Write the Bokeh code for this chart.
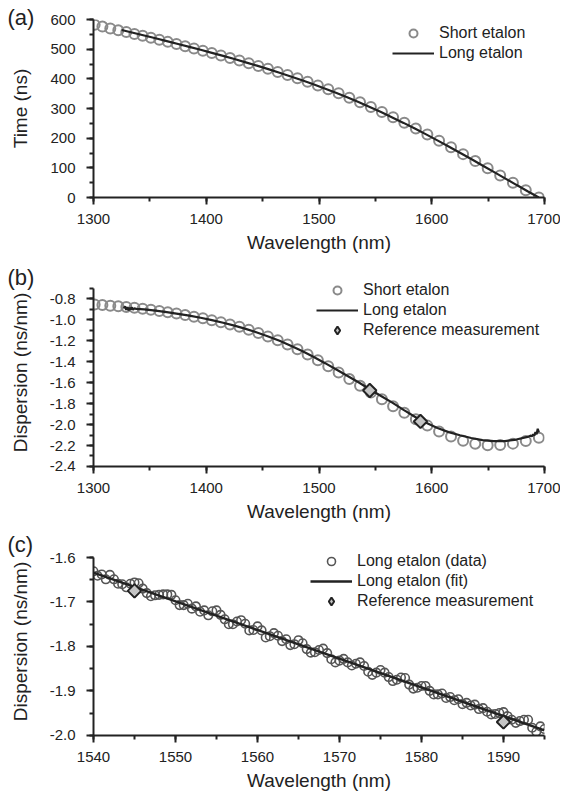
from bokeh.plotting import figure
from bokeh.layouts import column
from bokeh.models import (Range1d, SingleIntervalTicker, PrintfTickFormatter,
                          Legend, LegendItem)
from bokeh.embed import file_html
from bokeh.resources import INLINE

# ---------------- data ----------------
# short etalon (panels a, b)
wl_short = [1301.0, 1307.9, 1314.9, 1322.0, 1329.1, 1336.3, 1343.6, 1350.9, 1358.4, 1365.9,
            1373.6, 1381.3, 1389.1, 1397.0, 1404.9, 1413.0, 1421.1, 1429.4, 1437.7, 1446.2,
            1454.7, 1463.4, 1472.1, 1480.9, 1489.9, 1499.0, 1508.2, 1517.4, 1526.9, 1536.4,
            1546.0, 1555.8, 1565.7, 1575.7, 1585.9, 1596.1, 1606.5, 1617.1, 1627.8, 1638.6,
            1649.6, 1660.7, 1672.0, 1683.4, 1695.0]
time_short = [582.0, 576.1, 570.0, 563.9, 557.7, 551.4, 544.9, 538.3, 531.5, 524.6,
              517.4, 510.1, 502.6, 494.9, 487.0, 478.8, 470.5, 461.7, 452.8, 443.3,
              433.6, 423.4, 412.8, 401.8, 390.0, 377.7, 364.7, 351.1, 336.5, 321.4,
              305.4, 288.5, 270.8, 252.2, 232.6, 212.4, 191.2, 169.0, 146.2, 122.8,
              98.7, 74.3, 49.6, 24.8, 0.0]
disp_short = [-0.852, -0.858, -0.864, -0.870, -0.877, -0.885, -0.894, -0.904, -0.915, -0.927,
              -0.940, -0.954, -0.969, -0.985, -1.003, -1.022, -1.043, -1.066, -1.095, -1.125,
              -1.158, -1.195, -1.236, -1.281, -1.331, -1.385, -1.442, -1.502, -1.565, -1.629,
              -1.694, -1.759, -1.824, -1.888, -1.950, -2.010, -2.066, -2.115, -2.155, -2.183,
              -2.197, -2.196, -2.182, -2.156, -2.125]

# long etalon, panel a
wl_long_a = [1325, 1335, 1345, 1355, 1365, 1375, 1385, 1395, 1405, 1415,
             1425, 1435, 1445, 1455, 1465, 1475, 1485, 1495, 1505, 1515,
             1525, 1535, 1545, 1555, 1565, 1575, 1585, 1595, 1605, 1615,
             1625, 1635, 1645, 1655, 1665, 1675, 1685, 1695]
time_long_a = [564.5, 555.3, 546.1, 536.8, 527.3, 517.6, 507.9, 497.9, 487.7, 477.4,
               466.7, 455.6, 444.4, 432.7, 420.6, 408.1, 395.2, 381.6, 367.5, 352.9,
               337.6, 321.6, 305.1, 287.9, 270.0, 251.5, 232.5, 212.8, 192.6, 172.1,
               151.0, 129.7, 108.1, 86.3, 64.5, 42.7, 21.2, 0.0]

# long etalon, panel b
wl_long_b = [1327, 1328, 1329, 1330, 1331, 1332, 1333, 1334, 1335, 1336,
             1338, 1345, 1355, 1365, 1375, 1385, 1395, 1405, 1415, 1425,
             1435, 1445, 1455, 1465, 1475, 1485, 1495, 1505, 1515, 1525,
             1535, 1545, 1555, 1565, 1575, 1585, 1590, 1595, 1605, 1615,
             1625, 1635, 1645, 1655, 1665, 1675, 1685, 1688, 1689, 1690,
             1691, 1692, 1693, 1694, 1695]
disp_long_b = [-0.890, -0.870, -0.905, -0.878, -0.910, -0.884, -0.902, -0.880, -0.905, -0.890,
               -0.895, -0.900, -0.912, -0.926, -0.942, -0.960, -0.980, -1.002, -1.027, -1.055,
               -1.086, -1.120, -1.158, -1.200, -1.247, -1.298, -1.353, -1.411, -1.471, -1.533,
               -1.596, -1.662, -1.727, -1.790, -1.860, -1.925, -1.955, -1.983, -2.033, -2.072,
               -2.102, -2.128, -2.148, -2.158, -2.158, -2.143, -2.118, -2.105, -2.112, -2.093,
               -2.103, -2.072, -2.092, -2.040, -2.075]

# reference measurements (panels b, c)
ref_wl = [1545, 1590]
ref_disp = [-1.675, -1.970]

# long etalon data, panel c
wl_c = [1540.0, 1540.5, 1541.0, 1541.5, 1542.0, 1542.5, 1543.0, 1543.5, 1544.0, 1544.5,
        1545.0, 1545.5, 1546.0, 1546.5, 1547.0, 1547.5, 1548.0, 1548.5, 1549.0, 1549.5,
        1550.0, 1550.5, 1551.0, 1551.5, 1552.0, 1552.5, 1553.0, 1553.5, 1554.0, 1554.5,
        1555.0, 1555.5, 1556.0, 1556.5, 1557.0, 1557.5, 1558.0, 1558.5, 1559.0, 1559.5,
        1560.0, 1560.5, 1561.0, 1561.5, 1562.0, 1562.5, 1563.0, 1563.5, 1564.0, 1564.5,
        1565.0, 1565.5, 1566.0, 1566.5, 1567.0, 1567.5, 1568.0, 1568.5, 1569.0, 1569.5,
        1570.0, 1570.5, 1571.0, 1571.5, 1572.0, 1572.5, 1573.0, 1573.5, 1574.0, 1574.5,
        1575.0, 1575.5, 1576.0, 1576.5, 1577.0, 1577.5, 1578.0, 1578.5, 1579.0, 1579.5,
        1580.0, 1580.5, 1581.0, 1581.5, 1582.0, 1582.5, 1583.0, 1583.5, 1584.0, 1584.5,
        1585.0, 1585.5, 1586.0, 1586.5, 1587.0, 1587.5, 1588.0, 1588.5, 1589.0, 1589.5,
        1590.0, 1590.5, 1591.0, 1591.5, 1592.0, 1592.5, 1593.0, 1593.5, 1594.0, 1594.5,
        1595.0]
disp_c = [-1.631, -1.641, -1.638, -1.649, -1.639, -1.649, -1.659, -1.660, -1.667, -1.659,
          -1.656, -1.658, -1.670, -1.680, -1.687, -1.685, -1.684, -1.683, -1.683, -1.684,
          -1.696, -1.707, -1.707, -1.704, -1.715, -1.710, -1.722, -1.719, -1.730, -1.721,
          -1.719, -1.729, -1.739, -1.750, -1.750, -1.744, -1.741, -1.749, -1.764, -1.763,
          -1.755, -1.764, -1.780, -1.777, -1.770, -1.776, -1.788, -1.784, -1.797, -1.795,
          -1.786, -1.793, -1.806, -1.814, -1.813, -1.808, -1.805, -1.815, -1.829, -1.836,
          -1.832, -1.828, -1.836, -1.843, -1.839, -1.836, -1.844, -1.857, -1.864, -1.859,
          -1.853, -1.859, -1.869, -1.878, -1.875, -1.870, -1.871, -1.886, -1.895, -1.893,
          -1.889, -1.889, -1.900, -1.908, -1.908, -1.906, -1.916, -1.914, -1.921, -1.919,
          -1.930, -1.927, -1.933, -1.931, -1.941, -1.939, -1.947, -1.953, -1.952, -1.950,
          -1.948, -1.957, -1.965, -1.972, -1.968, -1.965, -1.965, -1.983, -1.992, -1.980,
          -1.986]
wl_fit = [1540, 1595]
disp_fit = [-1.634, -1.989]

# ---------------- style ----------------
FONT = "Liberation Sans"
INK = "#222222"
GREY = "#8a8a8a"
DARK = "#555555"
DIAM = "#c4c4c4"
ANG = 0.7853981634


def make_fig(xr, yr, ybounds, fh, xint, yint, yfmt, xlabel, ylabel, top, bottom,
             tag, tag_standoff):
    p = figure(frame_width=451, frame_height=fh,
               x_range=Range1d(*xr), y_range=Range1d(*yr),
               output_backend="svg", toolbar_location=None,
               min_border_left=93, min_border_right=16,
               min_border_top=top, min_border_bottom=bottom)
    p.xgrid.visible = False
    p.ygrid.visible = False
    p.outline_line_color = None
    p.xaxis.ticker = SingleIntervalTicker(interval=xint, num_minor_ticks=2)
    p.yaxis.ticker = SingleIntervalTicker(interval=yint, num_minor_ticks=2)
    p.yaxis.bounds = ybounds
    if yfmt:
        p.yaxis.formatter = PrintfTickFormatter(format=yfmt)
    for ax in (p.xaxis[0], p.yaxis[0]):
        ax.axis_line_width = 2
        ax.axis_line_color = INK
        ax.major_tick_line_width = 2
        ax.major_tick_line_color = INK
        ax.minor_tick_line_width = 2
        ax.minor_tick_line_color = INK
        ax.major_tick_in = 0
        ax.major_tick_out = 7
        ax.minor_tick_in = 0
        ax.minor_tick_out = 4
        ax.major_label_text_font = FONT
        ax.major_label_text_font_size = "15px"
        ax.major_label_text_color = INK
        ax.axis_label_text_font = FONT
        ax.axis_label_text_font_size = "19px"
        ax.axis_label_text_font_style = "normal"
        ax.axis_label_text_color = INK
    p.xaxis.major_label_standoff = 9
    p.xaxis.axis_label_standoff = 5
    p.yaxis.major_label_standoff = 11
    p.yaxis.axis_label_standoff = 16
    p.xaxis.axis_label = xlabel
    p.yaxis.axis_label = ylabel
    # panel tag "(a)" etc. drawn as the figure title, pushed left of the axis
    p.title.text = tag
    p.title.align = "left"
    p.title.offset = -86
    p.title.standoff = tag_standoff
    p.title.vertical_align = "bottom"
    p.title.text_font = FONT
    p.title.text_font_size = "22px"
    p.title.text_font_style = "normal"
    p.title.text_color = INK
    return p


def add_legend(p, items, loc):
    lg = Legend(items=items, location=loc, border_line_color=None,
                background_fill_alpha=0, padding=0, margin=0, spacing=0,
                glyph_width=42, glyph_height=20, label_height=20, label_standoff=5,
                label_text_font=FONT, label_text_font_size="16px", label_text_color=INK)
    p.add_layout(lg)


# ---------------- panel (a) ----------------
pa = make_fig((1300, 1700), (0, 600), (0, 600), 178, 100, 100, None,
              "Wavelength (nm)", "Time (ns)", 19, 61, "(a)", -20)
ra1 = pa.scatter(wl_short, time_short, marker="circle", size=10, fill_color=None,
                 line_color=GREY, line_width=2)
ra2 = pa.line(wl_long_a, time_long_a, line_color=INK, line_width=2.2)
add_legend(pa, [LegendItem(label="Short etalon", renderers=[ra1]),
                LegendItem(label="Long etalon", renderers=[ra2])], (299, 134))

# ---------------- panel (b) ----------------
pb = make_fig((1300, 1700), (-2.4005, -0.6047), (-2.4005, -0.7), 188, 100, 0.2, "%.1f",
              "Wavelength (nm)", "Dispersion (ns/nm)", 20, 61, "(b)", -22)
rb1 = pb.scatter(wl_short, disp_short, marker="circle", size=10, fill_color=None,
                 line_color=GREY, line_width=2)
rb2 = pb.line(wl_long_b, disp_long_b, line_color=INK, line_width=2.2)
rb3 = pb.scatter(ref_wl, ref_disp, marker="diamond", size=12,
                 fill_color=DIAM, line_color=INK, line_width=2)
pb.scatter(ref_wl, ref_disp, marker="square", angle=ANG, size=9.5,
           fill_color=DIAM, line_color=INK, line_width=2)
add_legend(pb, [LegendItem(label="Short etalon", renderers=[rb1]),
                LegendItem(label="Long etalon", renderers=[rb2]),
                LegendItem(label="Reference measurement", renderers=[rb3])], (223, 126))

# ---------------- panel (c) ----------------
pc = make_fig((1540, 1595), (-2.0005, -1.5774), (-2.0005, -1.6), 188, 10, 0.1, "%.1f",
              "Wavelength (nm)", "Dispersion (ns/nm)", 20, 0, "(c)", -19)
rc1 = pc.scatter(wl_c, disp_c, marker="circle", size=8.5, fill_color=None,
                 line_color=DARK, line_width=1.6)
rc2 = pc.line(wl_fit, disp_fit, line_color=INK, line_width=2.5)
rc3 = pc.scatter(ref_wl, ref_disp, marker="diamond", size=12,
                 fill_color=DIAM, line_color=INK, line_width=2)
pc.scatter(ref_wl, ref_disp, marker="square", angle=ANG, size=9.5,
           fill_color=DIAM, line_color=INK, line_width=2)
add_legend(pc, [LegendItem(label="Long etalon (data)", renderers=[rc1]),
                LegendItem(label="Long etalon (fit)", renderers=[rc2]),
                LegendItem(label="Reference measurement", renderers=[rc3])], (217, 124))

layout = column(pa, pb, pc, spacing=0)
open("out.html", "w").write(file_html(layout, INLINE))
